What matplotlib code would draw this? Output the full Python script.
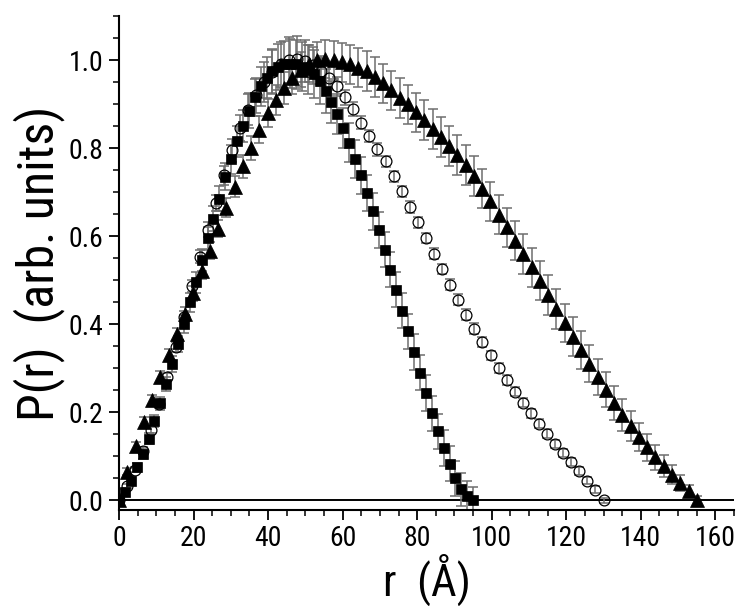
import matplotlib
matplotlib.use('Agg')
import matplotlib.pyplot as plt
from matplotlib.ticker import MultipleLocator, FormatStrFormatter

# P(r) distributions, three samples
sq_r = [0, 1.58, 3.17, 4.75, 6.33, 7.92, 9.5, 11.08, 12.67, 14.25,
        15.83, 17.42, 19.0, 20.58, 22.17, 23.75, 25.33, 26.92, 28.5, 30.08,
        31.67, 33.25, 34.83, 36.42, 38.0, 39.58, 41.17, 42.75, 44.33, 45.92,
        47.5, 49.08, 50.67, 52.25, 53.83, 55.42, 57.0, 58.58, 60.17, 61.75,
        63.33, 64.92, 66.5, 68.08, 69.67, 71.25, 72.83, 74.42, 76.0, 77.58,
        79.17, 80.75, 82.33, 83.92, 85.5, 87.08, 88.67, 90.25, 91.83, 93.42, 95.0]
sq_p = [0.0, 0.02, 0.045, 0.075, 0.105, 0.14, 0.18, 0.22, 0.265, 0.31,
        0.355, 0.40, 0.45, 0.495, 0.545, 0.595, 0.64, 0.685, 0.735, 0.775,
        0.815, 0.85, 0.885, 0.915, 0.94, 0.96, 0.975, 0.985, 0.99, 0.992,
        0.99, 0.985, 0.978, 0.968, 0.952, 0.93, 0.905, 0.877, 0.846, 0.812,
        0.775, 0.738, 0.698, 0.656, 0.613, 0.569, 0.524, 0.478, 0.431, 0.384,
        0.337, 0.290, 0.244, 0.198, 0.157, 0.119, 0.083, 0.050, 0.025, 0.010, 0.0]
sq_e = [0.005, 0.006, 0.008, 0.01, 0.011, 0.012, 0.014, 0.015, 0.016, 0.018,
        0.019, 0.02, 0.022, 0.023, 0.025, 0.026, 0.028, 0.029, 0.031, 0.033,
        0.035, 0.037, 0.04, 0.042, 0.045, 0.047, 0.05, 0.052, 0.054, 0.055,
        0.056, 0.056, 0.055, 0.054, 0.052, 0.05, 0.048, 0.046, 0.045, 0.044,
        0.043, 0.042, 0.042, 0.041, 0.041, 0.04, 0.04, 0.04, 0.04, 0.04,
        0.04, 0.04, 0.04, 0.04, 0.04, 0.04, 0.04, 0.04, 0.038, 0.035, 0.03]

ci_r = [0, 2.17, 4.33, 6.5, 8.67, 10.83, 13.0, 15.17, 17.33, 19.5,
        21.67, 23.83, 26.0, 28.17, 30.33, 32.5, 34.67, 36.83, 39.0, 41.17,
        43.33, 45.5, 47.67, 49.83, 52.0, 54.17, 56.33, 58.5, 60.67, 62.83,
        65.0, 67.17, 69.33, 71.5, 73.67, 75.83, 78.0, 80.17, 82.33, 84.5,
        86.67, 88.83, 91.0, 93.17, 95.33, 97.5, 99.67, 101.83, 104.0, 106.17,
        108.33, 110.5, 112.67, 114.83, 117.0, 119.17, 121.33, 123.5, 125.67, 127.83, 130.0]
ci_p = [0.0, 0.033, 0.07, 0.113, 0.16, 0.218, 0.28, 0.348, 0.417, 0.487,
        0.553, 0.615, 0.675, 0.738, 0.795, 0.846, 0.887, 0.92, 0.95, 0.972,
        0.99, 1.0, 1.003, 0.997, 0.988, 0.975, 0.96, 0.94, 0.915, 0.888,
        0.858, 0.828, 0.797, 0.77, 0.736, 0.702, 0.666, 0.631, 0.596, 0.56,
        0.525, 0.49, 0.456, 0.422, 0.39, 0.359, 0.329, 0.3, 0.274, 0.247,
        0.222, 0.198, 0.174, 0.151, 0.128, 0.107, 0.087, 0.066, 0.044, 0.024, 0.0]
ci_e = [0.004, 0.005, 0.006, 0.007, 0.008, 0.009, 0.01, 0.011, 0.012, 0.013,
        0.015, 0.017, 0.019, 0.022, 0.026, 0.03, 0.035, 0.04, 0.045, 0.05,
        0.052, 0.053, 0.052, 0.048, 0.042, 0.035, 0.028, 0.022, 0.018, 0.016,
        0.015, 0.014, 0.014, 0.013, 0.013, 0.013, 0.013, 0.012, 0.012, 0.012,
        0.012, 0.012, 0.012, 0.012, 0.012, 0.011, 0.011, 0.011, 0.011, 0.011,
        0.01, 0.01, 0.01, 0.01, 0.01, 0.009, 0.009, 0.009, 0.008, 0.008, 0.006]

tr_r = [0, 2.21, 4.43, 6.64, 8.86, 11.07, 13.29, 15.5, 17.71, 19.93,
        22.14, 24.36, 26.57, 28.79, 31.0, 33.21, 35.43, 37.64, 39.86, 42.07,
        44.29, 46.5, 48.71, 50.93, 53.14, 55.36, 57.57, 59.79, 62.0, 64.21,
        66.43, 68.64, 70.86, 73.07, 75.29, 77.5, 79.71, 81.93, 84.14, 86.36,
        88.57, 90.79, 93.0, 95.21, 97.43, 99.64, 101.86, 104.07, 106.29, 108.5,
        110.71, 112.93, 115.14, 117.36, 119.57, 121.79, 124.0, 126.21, 128.43, 130.64,
        132.86, 135.07, 137.29, 139.5, 141.71, 143.93, 146.14, 148.36, 150.57, 152.79, 155.0]
tr_p = [0.0, 0.065, 0.123, 0.178, 0.228, 0.28, 0.33, 0.377, 0.423, 0.47,
        0.52, 0.567, 0.617, 0.665, 0.712, 0.759, 0.8, 0.842, 0.88, 0.91,
        0.937, 0.96, 0.978, 0.992, 1.0, 1.002, 1.0, 0.995, 0.99, 0.983,
        0.975, 0.961, 0.947, 0.931, 0.914, 0.899, 0.881, 0.864, 0.844, 0.825,
        0.805, 0.784, 0.761, 0.736, 0.708, 0.679, 0.649, 0.62, 0.59, 0.56,
        0.529, 0.499, 0.466, 0.435, 0.403, 0.372, 0.341, 0.31, 0.28, 0.251,
        0.221, 0.194, 0.168, 0.144, 0.12, 0.098, 0.077, 0.058, 0.039, 0.021, 0.0]
tr_e = [0.005, 0.008, 0.01, 0.011, 0.012, 0.013, 0.014, 0.015, 0.016, 0.017,
        0.018, 0.019, 0.02, 0.022, 0.024, 0.026, 0.028, 0.03, 0.032, 0.034,
        0.036, 0.038, 0.04, 0.041, 0.042, 0.043, 0.044, 0.044, 0.045, 0.045,
        0.045, 0.045, 0.045, 0.045, 0.045, 0.045, 0.045, 0.045, 0.045, 0.045,
        0.045, 0.045, 0.045, 0.045, 0.045, 0.045, 0.045, 0.045, 0.045, 0.045,
        0.045, 0.045, 0.045, 0.045, 0.044, 0.044, 0.043, 0.042, 0.041, 0.04,
        0.038, 0.036, 0.034, 0.032, 0.03, 0.028, 0.025, 0.022, 0.018, 0.014, 0.01]

# the original uses a narrow Arial-like face
plt.rcParams['font.family'] = ['Roboto Condensed', 'Liberation Sans', 'DejaVu Sans']

fig = plt.figure(figsize=(7.5, 6.06), dpi=100)
ax = fig.add_axes([0.1587, 0.1584, 0.82, 0.8152])

ax.axhline(0, color='k', lw=1.4, zorder=1)

bar_kw = dict(fmt='none', ecolor='#6e6e6e', elinewidth=1.1, capsize=3.8, capthick=1.1, zorder=2)
ax.errorbar(tr_r, tr_p, yerr=tr_e, **bar_kw)
ax.errorbar(sq_r, sq_p, yerr=sq_e, **bar_kw)
ax.errorbar(ci_r, ci_p, yerr=ci_e, **bar_kw)

ax.plot(tr_r, tr_p, '^', ms=10.5, color='k', mec='k', mew=0.5, ls='none', zorder=3)
ax.plot(sq_r, sq_p, 's', ms=7.4, color='k', mec='k', mew=0.5, ls='none', zorder=4)
ax.plot(ci_r, ci_p, 'o', ms=7.8, mfc='none', mec='k', mew=0.9, ls='none', zorder=5)

ax.set_xlim(0, 165)
ax.set_ylim(-0.022, 1.10)
ax.xaxis.set_major_locator(MultipleLocator(20))
ax.xaxis.set_minor_locator(MultipleLocator(5))
ax.yaxis.set_major_locator(MultipleLocator(0.2))
ax.yaxis.set_minor_locator(MultipleLocator(0.05))
ax.yaxis.set_major_formatter(FormatStrFormatter('%.1f'))

for s in ['top', 'right']:
    ax.spines[s].set_visible(False)
for s in ['left', 'bottom']:
    ax.spines[s].set_linewidth(1.5)
ax.tick_params(which='major', direction='out', length=7, width=1.3, labelsize=20, pad=4)
ax.tick_params(which='minor', direction='out', length=4, width=1.1)

ax.set_xlabel('r  (Å)', fontsize=32, labelpad=1)
ax.set_ylabel('P(r)  (arb. units)', fontsize=36, labelpad=3)

fig.savefig('out.png', dpi=100)
